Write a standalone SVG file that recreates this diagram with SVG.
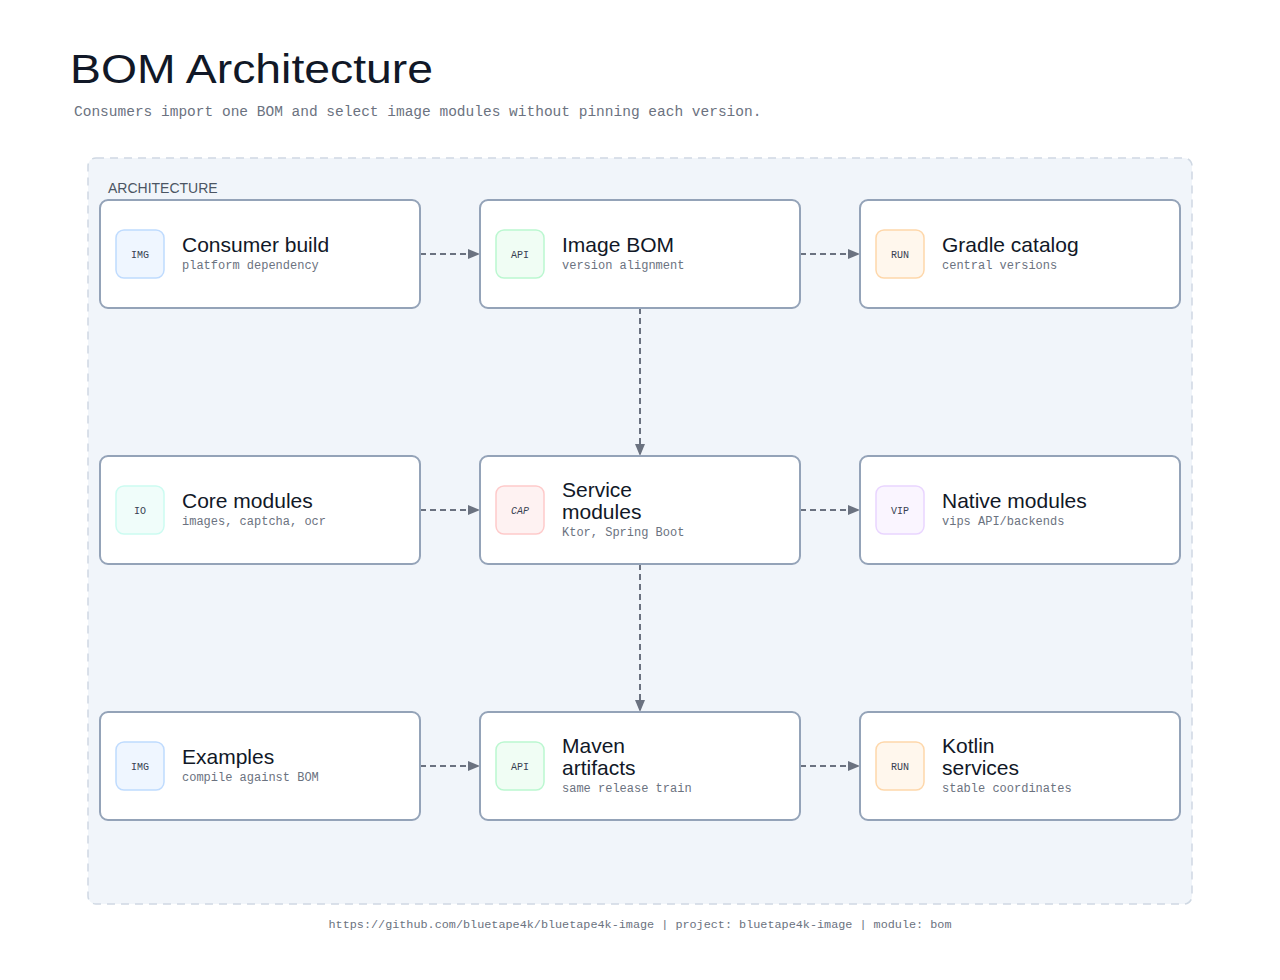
<svg xmlns="http://www.w3.org/2000/svg" width="1280" height="980" viewBox="0 0 1280 980">
  <defs>
    <marker id="arrow" viewBox="0 0 12 10" refX="12" refY="5" markerWidth="12" markerHeight="10" markerUnits="userSpaceOnUse" orient="auto">
      <path d="M0,0 L12,5 L0,10 Z" fill="#6b7280"/>
    </marker>
    <style>
      .title { font-family: "Liberation Sans", Arial, sans-serif; font-size: 40px; fill: #111827; }
      .sub { font-family: "Liberation Mono", "DejaVu Sans Mono", monospace; font-size: 14.5px; fill: #6b7280; }
      .group { fill: #f1f5fa; stroke: #cfd8e3; stroke-width: 1.5; stroke-dasharray: 8 6; }
      .glabel { font-family: "Liberation Sans", Arial, sans-serif; font-size: 14px; fill: #4b5563; }
      .node { fill: #ffffff; stroke: #94a3b8; stroke-width: 2; }
      .ntitle { font-family: "Liberation Sans", Arial, sans-serif; font-size: 21px; fill: #111827; }
      .ndesc { font-family: "Liberation Mono", "DejaVu Sans Mono", monospace; font-size: 12px; fill: #6b7280; }
      .icon { stroke-width: 1.5; }
      .itext { font-family: "Liberation Mono", "DejaVu Sans Mono", monospace; font-size: 10px; fill: #374151; text-anchor: middle; }
      .blue { fill: #eff6ff; stroke: #bfdbfe; }
      .green { fill: #f0fdf4; stroke: #bbf7d0; }
      .orange { fill: #fff7ed; stroke: #fed7aa; }
      .teal { fill: #f0fdfa; stroke: #ccfbf1; }
      .red { fill: #fef2f2; stroke: #fecaca; }
      .purple { fill: #faf5ff; stroke: #e9d5ff; }
      .edge { fill: none; stroke: #6b7280; stroke-width: 2; stroke-dasharray: 6 4; }
      .footer { font-family: "Liberation Mono", "DejaVu Sans Mono", monospace; font-size: 11.8px; fill: #6b7280; text-anchor: middle; }
    </style>
  </defs>

  <rect width="1280" height="980" fill="#ffffff"/>

  <text class="title" x="70" y="83" textLength="363" lengthAdjust="spacingAndGlyphs">BOM Architecture</text>
  <text class="sub" x="74" y="116">Consumers import one BOM and select image modules without pinning each version.</text>

  <g id="architecture-group">
    <rect class="group" x="88" y="158" width="1104" height="746" rx="8"/>
    <text class="glabel" x="108" y="193">ARCHITECTURE</text>
  </g>

  <g id="connectors">
    <line class="edge" x1="420" y1="254" x2="480" y2="254" marker-end="url(#arrow)"/>
    <line class="edge" x1="800" y1="254" x2="860" y2="254" marker-end="url(#arrow)"/>
    <line class="edge" x1="640" y1="308" x2="640" y2="456" marker-end="url(#arrow)"/>
    <line class="edge" x1="420" y1="510" x2="480" y2="510" marker-end="url(#arrow)"/>
    <line class="edge" x1="800" y1="510" x2="860" y2="510" marker-end="url(#arrow)"/>
    <line class="edge" x1="640" y1="564" x2="640" y2="712" marker-end="url(#arrow)"/>
    <line class="edge" x1="420" y1="766" x2="480" y2="766" marker-end="url(#arrow)"/>
    <line class="edge" x1="800" y1="766" x2="860" y2="766" marker-end="url(#arrow)"/>
  </g>

  <g id="consumer-build">
    <rect class="node" x="100" y="200" width="320" height="108" rx="8"/>
    <rect class="icon blue" x="116" y="230" width="48" height="48" rx="8"/>
    <text class="itext" x="140" y="258">IMG</text>
    <text class="ntitle" x="182" y="252">Consumer build</text>
    <text class="ndesc" x="182" y="269">platform dependency</text>
  </g>

  <g id="image-bom">
    <rect class="node" x="480" y="200" width="320" height="108" rx="8"/>
    <rect class="icon green" x="496" y="230" width="48" height="48" rx="8"/>
    <text class="itext" x="520" y="258">API</text>
    <text class="ntitle" x="562" y="252">Image BOM</text>
    <text class="ndesc" x="562" y="269">version alignment</text>
  </g>

  <g id="gradle-catalog">
    <rect class="node" x="860" y="200" width="320" height="108" rx="8"/>
    <rect class="icon orange" x="876" y="230" width="48" height="48" rx="8"/>
    <text class="itext" x="900" y="258">RUN</text>
    <text class="ntitle" x="942" y="252">Gradle catalog</text>
    <text class="ndesc" x="942" y="269">central versions</text>
  </g>

  <g id="core-modules">
    <rect class="node" x="100" y="456" width="320" height="108" rx="8"/>
    <rect class="icon teal" x="116" y="486" width="48" height="48" rx="8"/>
    <text class="itext" x="140" y="514">IO</text>
    <text class="ntitle" x="182" y="508">Core modules</text>
    <text class="ndesc" x="182" y="525">images, captcha, ocr</text>
  </g>

  <g id="service-modules">
    <rect class="node" x="480" y="456" width="320" height="108" rx="8"/>
    <rect class="icon red" x="496" y="486" width="48" height="48" rx="8"/>
    <text class="itext" x="520" y="514" font-style="italic">CAP</text>
    <text class="ntitle" x="562" y="497">Service</text>
    <text class="ntitle" x="562" y="519">modules</text>
    <text class="ndesc" x="562" y="536">Ktor, Spring Boot</text>
  </g>

  <g id="native-modules">
    <rect class="node" x="860" y="456" width="320" height="108" rx="8"/>
    <rect class="icon purple" x="876" y="486" width="48" height="48" rx="8"/>
    <text class="itext" x="900" y="514">VIP</text>
    <text class="ntitle" x="942" y="508">Native modules</text>
    <text class="ndesc" x="942" y="525">vips API/backends</text>
  </g>

  <g id="examples">
    <rect class="node" x="100" y="712" width="320" height="108" rx="8"/>
    <rect class="icon blue" x="116" y="742" width="48" height="48" rx="8"/>
    <text class="itext" x="140" y="770">IMG</text>
    <text class="ntitle" x="182" y="764">Examples</text>
    <text class="ndesc" x="182" y="781">compile against BOM</text>
  </g>

  <g id="maven-artifacts">
    <rect class="node" x="480" y="712" width="320" height="108" rx="8"/>
    <rect class="icon green" x="496" y="742" width="48" height="48" rx="8"/>
    <text class="itext" x="520" y="770">API</text>
    <text class="ntitle" x="562" y="753">Maven</text>
    <text class="ntitle" x="562" y="775">artifacts</text>
    <text class="ndesc" x="562" y="792">same release train</text>
  </g>

  <g id="kotlin-services">
    <rect class="node" x="860" y="712" width="320" height="108" rx="8"/>
    <rect class="icon orange" x="876" y="742" width="48" height="48" rx="8"/>
    <text class="itext" x="900" y="770">RUN</text>
    <text class="ntitle" x="942" y="753">Kotlin</text>
    <text class="ntitle" x="942" y="775">services</text>
    <text class="ndesc" x="942" y="792">stable coordinates</text>
  </g>

  <text class="footer" x="640" y="928">https://github.com/bluetape4k/bluetape4k-image | project: bluetape4k-image | module: bom</text>
</svg>
